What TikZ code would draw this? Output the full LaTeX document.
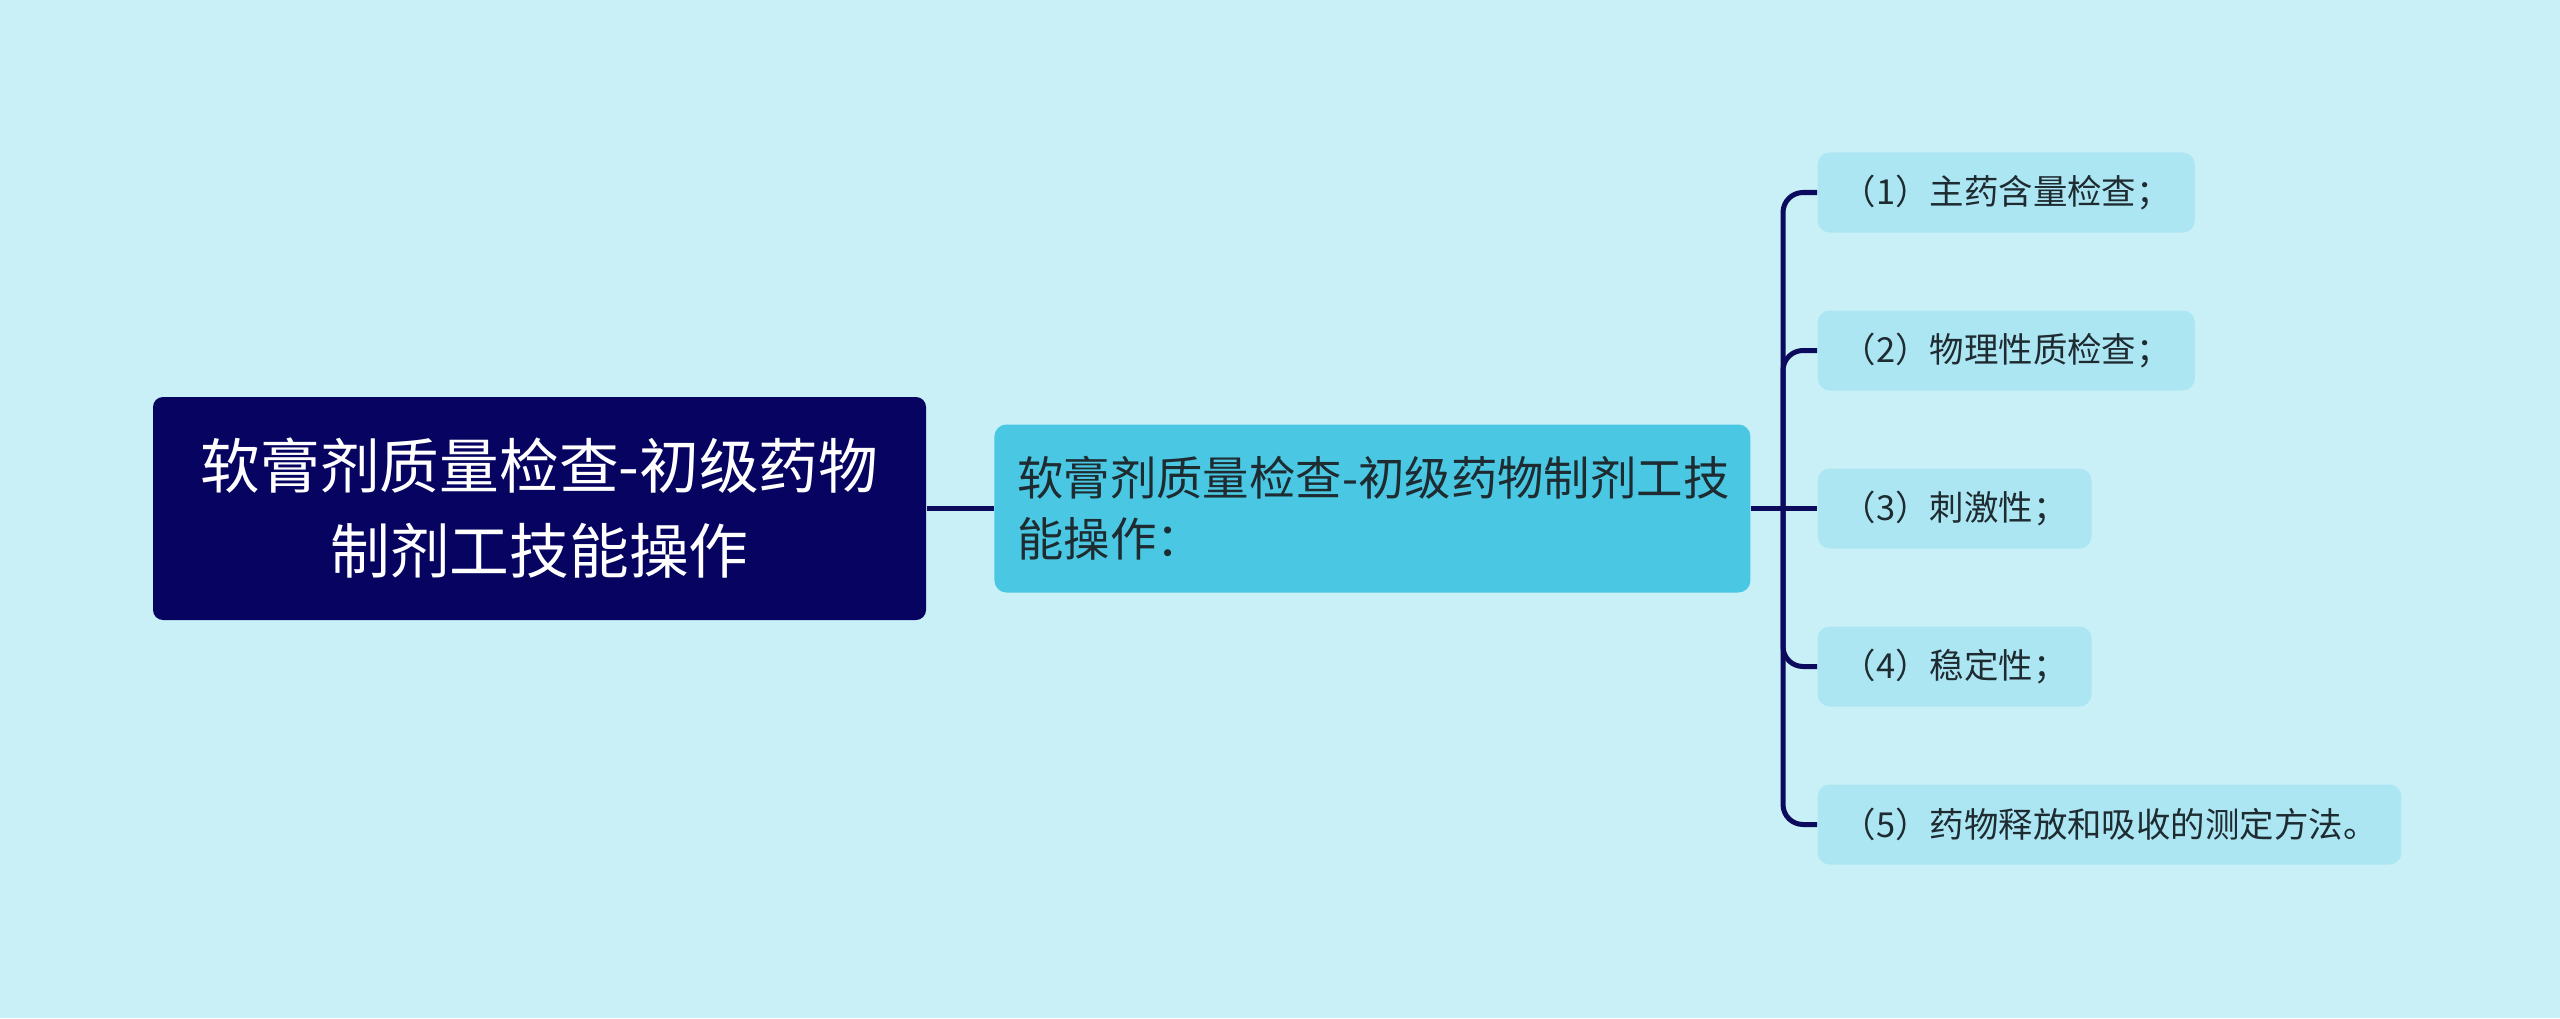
\documentclass[tikz,border=0pt]{standalone}
\usepackage{fontspec}
\setmainfont{Noto Sans CJK SC}
\usetikzlibrary{positioning}

\definecolor{bgcyan}{HTML}{C9F0F7}
\definecolor{rootnavy}{HTML}{070461}
\definecolor{midcyan}{HTML}{4AC8E3}
\definecolor{leafcyan}{HTML}{ADE6F3}
\definecolor{linknavy}{HTML}{0B0A5C}
\definecolor{textdark}{HTML}{1E2B31}

\begin{document}
\begin{tikzpicture}[
    rootbox/.style={fill=rootnavy, text=white, rounded corners=0.1cm,
        minimum width=7.73cm, minimum height=2.23cm, text width=7.3cm,
        align=center, font=\fontsize{17pt}{24.2pt}\selectfont},
    midbox/.style={fill=midcyan, text=textdark, rounded corners=0.12cm,
        minimum height=1.68cm, text width=7.1cm, inner xsep=0.23cm,
        align=left, font=\fontsize{13.2pt}{17.4pt}\selectfont},
    leafbox/.style={fill=leafcyan, text=textdark, rounded corners=0.12cm,
        minimum height=0.8cm, inner xsep=0.24cm, anchor=west,
        font=\fontsize{9.8pt}{12pt}\selectfont},
    link/.style={draw=linknavy, line width=0.05cm},
]

    % Background
    \fill[bgcyan] (0,0) rectangle (25.6,10.18);

    % Root and topic
    \node[rootbox] (root) at (5.395,5.095) {软膏剂质量检查-初级药物\\制剂工技能操作};
    \node[midbox, right=0.67cm of root] (mid) {\mbox{软膏剂质量检查-初级药物制剂工技}\\能操作：};

    % Items
    \foreach \txt [count=\i] in {（1）主药含量检查；,（2）物理性质检查；,（3）刺激性；,（4）稳定性；,（5）药物释放和吸收的测定方法。}
        \node[leafbox] (leaf\i) at (18.17,{5.095+(3-\i)*1.58}) {\txt};

    % Connectors
    \coordinate (jn) at (17.83,5.095);
    \draw[link] (root) -- (mid);
    \draw[link] (mid) -- (leaf3);
    \foreach \i in {1,2,4,5}
        \draw[link, rounded corners=0.2cm] (jn) |- (leaf\i.west);

\end{tikzpicture}
\end{document}
